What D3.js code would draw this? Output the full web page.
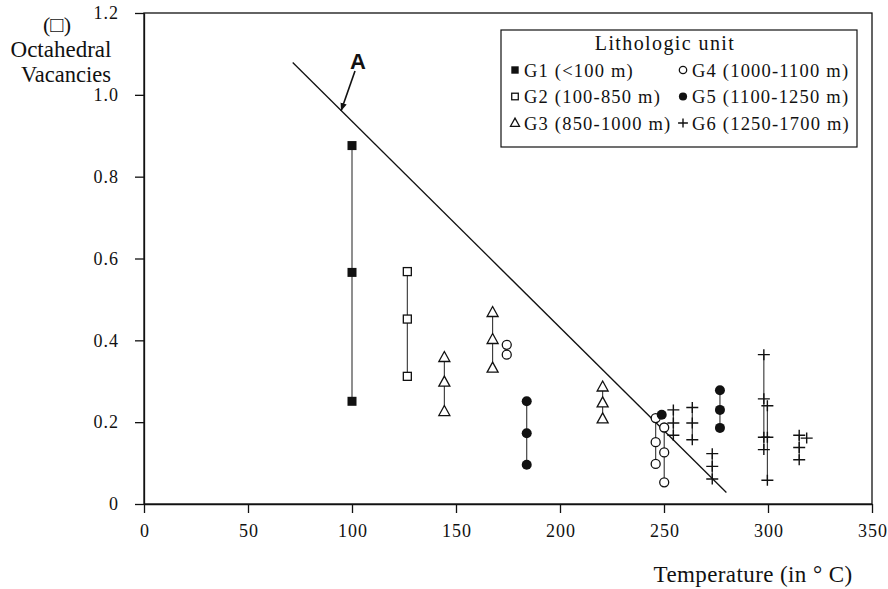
<!DOCTYPE html>
<html lang="en">
<head>
<meta charset="UTF-8">
<title>Octahedral vacancies vs temperature</title>
<style>
  body { margin:0; background:#fff; }
  svg { display:block; }
  svg text { font-family:"Liberation Serif","Times New Roman",serif; fill:#111; }
  .axis path, .axis line { stroke:#111; stroke-width:1.3px; }
  .axis text { font-size:18px; letter-spacing:1px; }
  .leg { font-size:18.5px; letter-spacing:1.2px; }
</style>
</head>
<body>
<svg id="chart" width="888" height="589"></svg>
<script src="https://cdnjs.cloudflare.com/ajax/libs/d3/7.8.5/d3.min.js"></script>
<script>
// columns of measurements: [temperature, [octahedral vacancies...]]
const g1 = [[100, [0.876, 0.566, 0.251]]];
const g2 = [[126.6, [0.568, 0.452, 0.312]]];
const g3 = [[144.4, [0.358, 0.298, 0.226]], [167.6, [0.468, 0.402, 0.332]], [220.5, [0.286, 0.247, 0.208]]];
const g4 = [[174.4, [0.389, 0.365]], [246, [0.210, 0.151, 0.098]], [250.1, [0.187, 0.126, 0.053]]];
const g5 = [[184, [0.251, 0.173, 0.096]], [248.9, [0.218]], [276.9, [0.278, 0.230, 0.186]]];
const g6 = [[254.5, [0.230, 0.198, 0.168]], [263.6, [0.236, 0.198, 0.157]], [273.2, [0.123, 0.092, 0.061]],
            [298, [0.365, 0.257, 0.163, 0.133]], [299.7, [0.240, 0.163, 0.058]],
            [315, [0.168, 0.138, 0.108]], [318.6, [0.161]]];
const trendT = [71.5, 280];
const trendV = [1.079, 0.028];
const legendLabels = ["G1 (<100 m)", "G2 (100-850 m)", "G3 (850-1000 m)",
                      "G4 (1000-1100 m)", "G5 (1100-1250 m)", "G6 (1250-1700 m)"];
const xTicks = [0, 50, 100, 150, 200, 250, 300, 350];
const yTicks = [0, 0.2, 0.4, 0.6, 0.8, 1.0, 1.2];

const svg = d3.select("#chart");
const L = 144, R = 872, T = 13, B = 504;
const x = d3.scaleLinear().domain([0, 350]).range([L, R]);
const y = d3.scaleLinear().domain([0, 1.2]).range([B, T]);

// frame (top + right)
svg.append("rect").attr("x", L).attr("y", T).attr("width", R - L).attr("height", B - T)
  .attr("fill", "none").attr("stroke", "#111").attr("stroke-width", 1.3);

svg.append("g").attr("class", "axis").attr("transform", `translate(0,${B})`)
  .call(d3.axisBottom(x).tickValues(xTicks).tickSize(9).tickPadding(11).tickSizeOuter(0))
  .selectAll(".tick text").attr("dx", "0.5px");
svg.append("g").attr("class", "axis").attr("transform", `translate(${L},0)`)
  .call(d3.axisLeft(y).tickValues(yTicks).tickSize(9).tickPadding(16).tickSizeOuter(0)
    .tickFormat(d => d === 0 ? "0" : d3.format(".1f")(d)));

// marker shapes
const markers = {
  g1: (g, s) => g.append("rect").attr("x", -4.5 * s).attr("y", -4.5 * s).attr("width", 9 * s).attr("height", 9 * s).attr("fill", "#111"),
  g2: (g, s) => g.append("rect").attr("x", -4 * s).attr("y", -4 * s).attr("width", 8 * s).attr("height", 8 * s).attr("fill", "#fff").attr("stroke", "#111").attr("stroke-width", 1.3),
  g3: (g, s) => g.append("path").attr("d", `M0,${-6 * s}L${5.5 * s},${4 * s}L${-5.5 * s},${4 * s}Z`).attr("fill", "#fff").attr("stroke", "#111").attr("stroke-width", 1.3),
  g4: (g, s) => g.append("circle").attr("r", 4.5 * s).attr("fill", "#fff").attr("stroke", "#111").attr("stroke-width", 1.3),
  g5: (g, s) => g.append("circle").attr("r", 5 * s).attr("fill", "#111"),
  g6: (g, s) => g.append("path").attr("d", `M${-6 * s},0H${6 * s}M0,${-5.5 * s}V${5.5 * s}`).attr("fill", "none").attr("stroke", "#111").attr("stroke-width", 1.4)
};
const groups = { g1, g2, g3, g4, g5, g6 };

// connecting lines within each column
const lineG = svg.append("g");
Object.values(groups).forEach(cols => cols.forEach(([t, vs]) => {
  if (vs.length < 2) return;
  lineG.append("line").attr("x1", x(t)).attr("x2", x(t))
    .attr("y1", y(d3.max(vs))).attr("y2", y(d3.min(vs)))
    .attr("stroke", "#333").attr("stroke-width", 1.1);
}));

// trend line A
svg.append("line").attr("x1", x(trendT[0])).attr("y1", y(trendV[0]))
  .attr("x2", x(trendT[1])).attr("y2", y(trendV[1]))
  .attr("stroke", "#111").attr("stroke-width", 1.3);

// points
const ptG = svg.append("g");
Object.entries(groups).forEach(([k, cols]) => cols.forEach(([t, vs]) => vs.forEach(v => {
  const g = ptG.append("g").attr("transform", `translate(${x(t)},${y(v)})`);
  markers[k](g, 1);
})));

// label A with arrow
svg.append("defs").append("marker").attr("id", "arr").attr("viewBox", "0 0 10 10")
  .attr("refX", 10).attr("refY", 5).attr("markerWidth", 5).attr("markerHeight", 6)
  .attr("orient", "auto").attr("markerUnits", "strokeWidth")
  .append("path").attr("d", "M0,1L10,5L0,9Z").attr("fill", "#111");
svg.append("line").attr("x1", 355).attr("y1", 71).attr("x2", 341).attr("y2", 111)
  .attr("stroke", "#111").attr("stroke-width", 1.6).attr("marker-end", "url(#arr)");
svg.append("text").attr("x", 358).attr("y", 69).attr("text-anchor", "middle")
  .style("font-family", "'Liberation Sans', Arial, sans-serif").style("font-weight", "bold")
  .style("font-size", "22px").text("A");

// axis titles
svg.append("text").attr("x", 753).attr("y", 582).attr("text-anchor", "middle")
  .style("font-size", "23px").style("letter-spacing", "0.4px").text("Temperature (in \u00b0 C)");
svg.append("text").attr("x", 57).attr("y", 32).attr("text-anchor", "middle")
  .style("font-size", "22px").text("(\u25a1)");
svg.append("text").attr("x", 61).attr("y", 57).attr("text-anchor", "middle")
  .style("font-size", "23px").text("Octahedral");
svg.append("text").attr("x", 66).attr("y", 82).attr("text-anchor", "middle")
  .style("font-size", "22.5px").text("Vacancies");

// legend
const lg = svg.append("g").attr("transform", "translate(501,30)");
lg.append("rect").attr("width", 356).attr("height", 117).attr("fill", "#fff")
  .attr("stroke", "#111").attr("stroke-width", 1.2);
lg.append("text").attr("x", 164).attr("y", 20).attr("text-anchor", "middle")
  .style("font-size", "20px").style("letter-spacing", "1.4px").text("Lithologic unit");
const keys = Object.keys(groups);
legendLabels.forEach((lab, i) => {
  const col = Math.floor(i / 3), row = i % 3;
  const gx = col === 0 ? 14 : 182, gy = 40 + row * 26.5;
  const m = lg.append("g").attr("transform", `translate(${gx},${gy})`);
  markers[keys[i]](m, 0.82);
  lg.append("text").attr("class", "leg").attr("x", gx + 9).attr("y", gy + 6.5).text(lab);
});
</script>
</body>
</html>
